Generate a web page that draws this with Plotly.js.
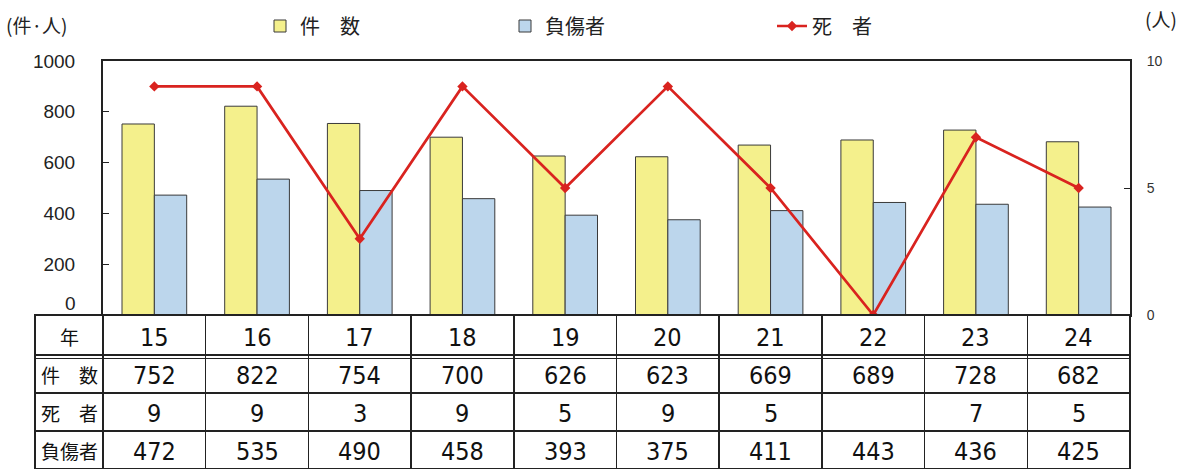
<!DOCTYPE html>
<html>
<head>
<meta charset="utf-8">
<script src="https://cdn.plot.ly/plotly-3.0.1.min.js"></script>
<style>html,body{margin:0;padding:0;background:#fff;}#chart{width:1183px;height:470px;}</style>
</head>
<body>
<div id="chart"></div>
<script>
// ---- data ----
const years = ['15','16','17','18','19','20','21','22','23','24'];
const cases = [752, 822, 754, 700, 626, 623, 669, 689, 728, 682];
const deaths = [9, 9, 3, 9, 5, 9, 5, 0, 7, 5];
const injured = [472, 535, 490, 458, 393, 375, 411, 443, 436, 425];
const rowLabels = ['件　数', '死　者', '負傷者'];
const headerLabel = '年';
const leftTicks = [0, 200, 400, 600, 800, 1000];
const rightTicks = [0, 5, 10];

// ---- layout helpers ----
const W = 1183, H = 470;
const mL = 35, mR = 53, mT = 61, mB = 1;
const pw = W - mL - mR, ph = H - mT - mB;
const px = X => (X - mL) / pw;
const py = Y => (H - mB - Y) / ph;

const CJK = '"Noto Sans CJK JP", sans-serif';
const NUM = '"Liberation Sans Narrow", "DejaVu Sans Condensed", "Liberation Sans", sans-serif';
const SANS = '"Liberation Sans", Arial, sans-serif';

const barLine = {color: '#3a3a3a', width: 1};

// table rows (text drawn as annotations for exact vertical centring)
const rowCenters = [337, 375, 413, 451];
const tableRows = [
  years,
  cases.map(String),
  deaths.map(d => d === 0 ? '' : String(d)),
  injured.map(String)
];
const firstCol = [headerLabel].concat(rowLabels);

const traces = [
  {type: 'bar', name: '件　数', x: years, y: cases, xaxis: 'x', yaxis: 'y',
   marker: {color: '#F4F08C', line: barLine}, legend: 'legend', hoverinfo: 'skip'},
  {type: 'bar', name: '負傷者', x: years, y: injured, xaxis: 'x', yaxis: 'y',
   marker: {color: '#BCD6EC', line: barLine}, legend: 'legend2', hoverinfo: 'skip'},
  {type: 'scatter', mode: 'lines+markers', name: '死　者', x: years, y: deaths, xaxis: 'x', yaxis: 'y2',
   line: {color: '#D9231F', width: 2.7}, marker: {symbol: 'diamond', size: 8, color: '#D9231F'},
   legend: 'legend3', hoverinfo: 'skip'},
  {type: 'table', showlegend: false,
   domain: {x: [0, 1], y: [0, py(315)]},
   columnwidth: [68].concat(years.map(() => (pw - 68) / years.length)),
   header: {
     values: [''].concat(years.map(() => '')),
     height: 40, fill: {color: '#ffffff'}, line: {color: '#222', width: 1.5}
   },
   cells: {
     values: [['', '', '']].concat(years.map(() => ['', '', ''])),
     height: 38, fill: {color: '#ffffff'}, line: {color: '#222', width: 1.5}
   }
  }
];

const annotations = [
  {xref: 'paper', yref: 'paper', x: px(4), y: py(24), xanchor: 'left', yanchor: 'middle', showarrow: false,
   text: '(件·人)', font: {family: CJK, size: 19, color: '#222'}},
  {xref: 'paper', yref: 'paper', x: px(1179), y: py(19), xanchor: 'right', yanchor: 'middle', showarrow: false,
   text: '(人)', font: {family: CJK, size: 19, color: '#222'}},
  {xref: 'paper', yref: 'y', x: px(78), y: 0, yshift: 12, xanchor: 'right', yanchor: 'middle', showarrow: false,
   text: String(leftTicks[0]), font: {family: SANS, size: 19, color: '#222'}}
];
firstCol.forEach((t, r) => annotations.push({
  xref: 'paper', yref: 'paper', x: px(69), y: py(rowCenters[r] - 1), xanchor: 'center', yanchor: 'middle',
  showarrow: false, text: t, font: {family: CJK, size: 19, color: '#111'}
}));
tableRows.forEach((row, r) => row.forEach((t, i) => {
  if (t === '') return;
  annotations.push({
    xref: 'x', yref: 'paper', x: i, y: py(rowCenters[r]), xanchor: 'center', yanchor: 'middle',
    showarrow: false, text: t, font: {family: NUM, size: 25, color: '#111'}
  });
}));

const legendCommon = {orientation: 'h', yanchor: 'middle', y: py(26), xanchor: 'left',
  font: {family: CJK, size: 20, color: '#222'}, bgcolor: 'rgba(0,0,0,0)'};

const layout = {
  width: W, height: H,
  margin: {l: mL, r: mR, t: mT, b: mB, pad: 0, autoexpand: false},
  paper_bgcolor: '#ffffff', plot_bgcolor: '#ffffff',
  barmode: 'group', bargap: 0.37, bargroupgap: 0,
  xaxis: {domain: [px(103), 1], type: 'category', categoryarray: years, categoryorder: 'array',
          range: [-0.5, years.length - 0.5], autorange: false,
          showticklabels: false, ticks: '',
          showline: true, linecolor: '#222', linewidth: 2, mirror: true, showgrid: false, zeroline: false, fixedrange: true},
  yaxis: {domain: [py(315), 1], range: [0, 1000], tickvals: leftTicks,
          ticktext: leftTicks.map(v => v === 0 ? '' : String(v)),
          ticks: 'inside', ticklen: 6, tickcolor: '#222',
          showline: true, linecolor: '#222', linewidth: 2, showgrid: false, zeroline: false,
          tickfont: {family: SANS, size: 19, color: '#222'}, ticklabelstandoff: 22},
  yaxis2: {overlaying: 'y', side: 'right', range: [0, 10], tickvals: rightTicks, ticks: 'inside', ticklen: 6, tickcolor: '#222',
           showline: true, linecolor: '#222', linewidth: 2, showgrid: false, zeroline: false,
           tickfont: {family: SANS, size: 14, color: '#333'}, ticklabelstandoff: 12},
  legend: Object.assign({}, legendCommon, {x: px(260)}),
  legend2: Object.assign({}, legendCommon, {x: px(505)}),
  legend3: Object.assign({}, legendCommon, {x: px(772)}),
  annotations: annotations,
  shapes: [
    {type: 'line', xref: 'paper', yref: 'paper', x0: 0, x1: 1, y0: py(358.5), y1: py(358.5), line: {color: '#222', width: 1.2}, layer: 'above'}
  ],
  showlegend: true
};

Plotly.newPlot('chart', traces, layout, {displayModeBar: false, staticPlot: true});
</script>
</body>
</html>
